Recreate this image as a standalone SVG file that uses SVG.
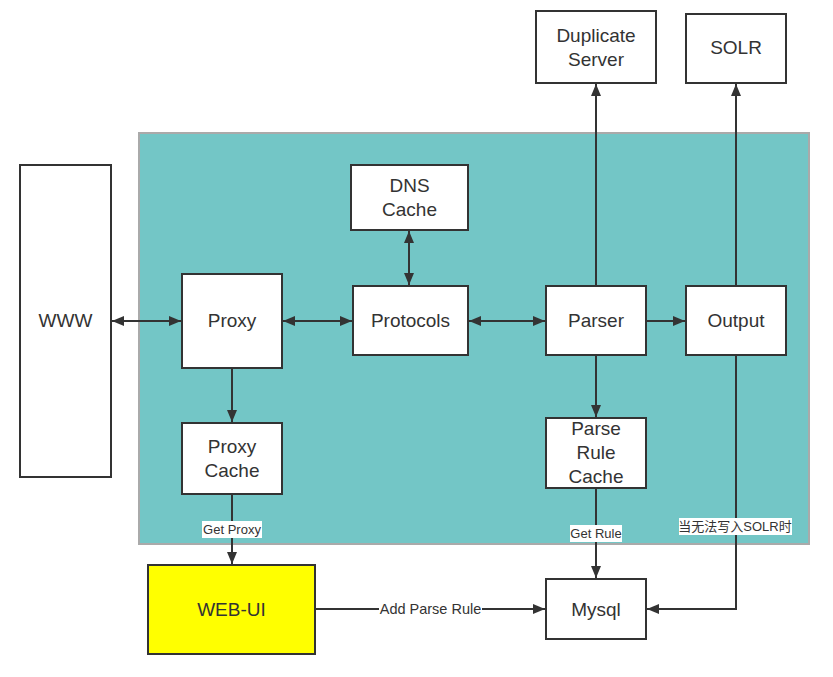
<svg xmlns="http://www.w3.org/2000/svg" width="833" height="677" viewBox="0 0 833 677">
<style>
.box{fill:#fff;stroke:#333;stroke-width:2}
.t{font-family:"Liberation Sans",Arial,sans-serif;font-size:19px;fill:#333;text-anchor:middle}
.lbl{font-family:"Liberation Sans","Noto Sans CJK SC",sans-serif;font-size:13px;fill:#333;text-anchor:middle}
.c{fill:none;stroke:#333;stroke-width:2}
.lb{fill:#fff}
</style>
<defs>
<marker id="ah" viewBox="0 0 12 10" refX="12" refY="5" markerWidth="12" markerHeight="10" markerUnits="userSpaceOnUse" orient="auto-start-reverse">
<path d="M0,0 L12,5 L0,10 Z" fill="#333"/>
</marker>
</defs>
<rect width="833" height="677" fill="#fff"/>
<g id="container">
<rect x="139" y="133" width="670" height="411" fill="#73C6C6" stroke="#aaa" stroke-width="2"/>
</g>
<g id="connectors">
<line class="c" x1="112" y1="321" x2="181" y2="321" marker-start="url(#ah)" marker-end="url(#ah)"/>
<line class="c" x1="283" y1="321" x2="352" y2="321" marker-start="url(#ah)" marker-end="url(#ah)"/>
<line class="c" x1="409" y1="231" x2="409" y2="285" marker-start="url(#ah)" marker-end="url(#ah)"/>
<line class="c" x1="469" y1="321" x2="545" y2="321" marker-start="url(#ah)" marker-end="url(#ah)"/>
<line class="c" x1="646" y1="321" x2="685" y2="321" marker-end="url(#ah)"/>
<line class="c" x1="596" y1="286" x2="596" y2="84" marker-end="url(#ah)"/>
<line class="c" x1="736" y1="286" x2="736" y2="84" marker-end="url(#ah)"/>
<line class="c" x1="232" y1="368" x2="232" y2="422" marker-end="url(#ah)"/>
<line class="c" x1="596" y1="355" x2="596" y2="417" marker-end="url(#ah)"/>
<line class="c" x1="232" y1="494" x2="232" y2="564" marker-end="url(#ah)"/>
<line class="c" x1="596" y1="488" x2="596" y2="578" marker-end="url(#ah)"/>
<polyline class="c" points="736,355 736,609 647,609" marker-end="url(#ah)"/>
<line class="c" x1="315" y1="609" x2="545" y2="609" marker-end="url(#ah)"/>
<rect class="lb" x="202" y="521" width="60" height="17"/>
<text class="lbl" x="232" y="534">Get Proxy</text>
<rect class="lb" x="570" y="525" width="52" height="17"/>
<text class="lbl" x="596" y="538">Get Rule</text>
<rect class="lb" x="679" y="518" width="113" height="17"/>
<text class="lbl" x="735" y="531">当无法写入SOLR时</text>
<rect class="lb" x="379" y="601" width="103" height="16"/>
<text class="lbl" x="430.5" y="614" style="font-size:14.5px">Add Parse Rule</text>
</g>
<g id="www"><rect class="box" x="20" y="165" width="91" height="312"/><text class="t" x="65.5" y="327">WWW</text></g>
<g id="proxy"><rect class="box" x="182" y="274" width="100" height="94"/><text class="t" x="232" y="327">Proxy</text></g>
<g id="protocols"><rect class="box" x="353" y="286" width="115" height="69"/><text class="t" x="410.5" y="327">Protocols</text></g>
<g id="dns-cache"><rect class="box" x="351" y="165" width="117" height="65"/><text class="t" x="409.5" y="192">DNS</text><text class="t" x="409.5" y="216">Cache</text></g>
<g id="parser"><rect class="box" x="546" y="286" width="100" height="69"/><text class="t" x="596" y="327">Parser</text></g>
<g id="output"><rect class="box" x="686" y="286" width="100" height="69"/><text class="t" x="736" y="327">Output</text></g>
<g id="duplicate-server"><rect class="box" x="536" y="11" width="120" height="72"/><text class="t" x="596" y="42">Duplicate</text><text class="t" x="596" y="66">Server</text></g>
<g id="solr"><rect class="box" x="686" y="14" width="100" height="69"/><text class="t" x="736" y="54">SOLR</text></g>
<g id="proxy-cache"><rect class="box" x="182" y="423" width="100" height="71"/><text class="t" x="232" y="453">Proxy</text><text class="t" x="232" y="477">Cache</text></g>
<g id="parse-rule-cache"><rect class="box" x="546" y="418" width="100" height="70"/><text class="t" x="596" y="435">Parse</text><text class="t" x="596" y="459">Rule</text><text class="t" x="596" y="483">Cache</text></g>
<g id="web-ui"><rect class="box" x="148" y="565" width="167" height="89" style="fill:#ffff00"/><text class="t" x="231.5" y="616">WEB-UI</text></g>
<g id="mysql"><rect class="box" x="546" y="579" width="100" height="60"/><text class="t" x="596" y="616">Mysql</text></g>
</svg>
